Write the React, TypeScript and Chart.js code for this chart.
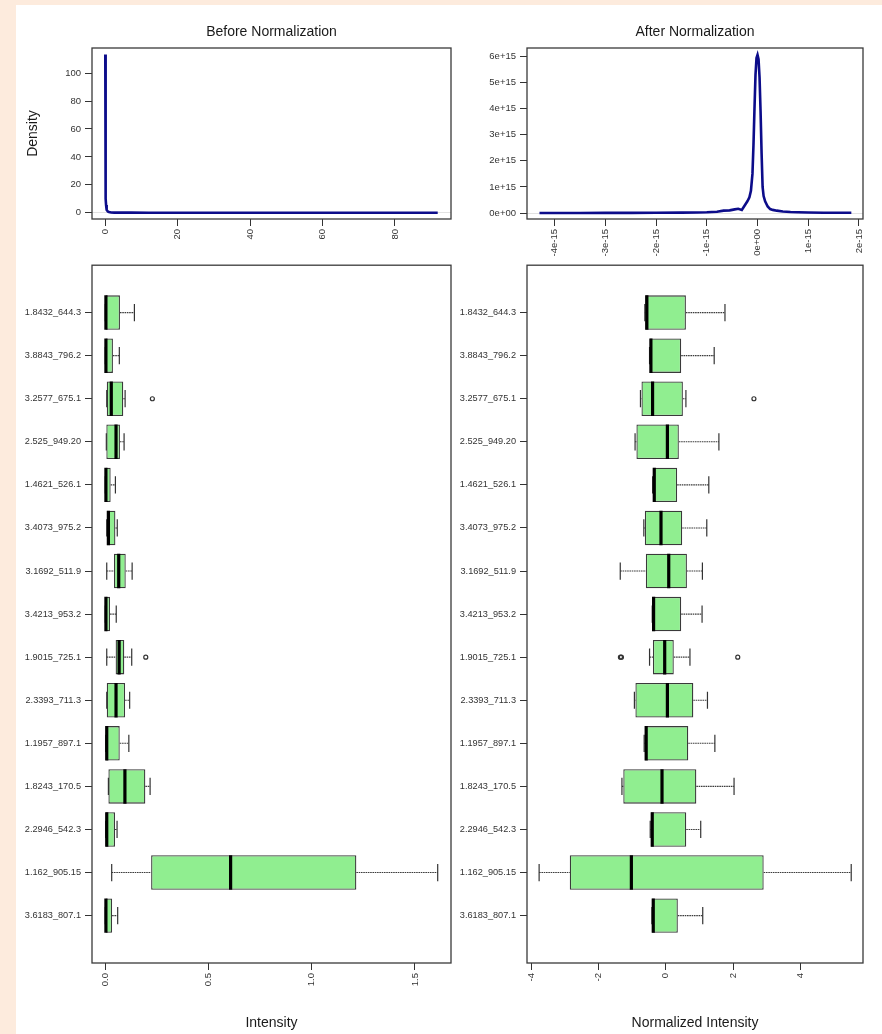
import React, { useEffect, useRef } from 'react';
import { Chart, registerables } from 'chart.js';

Chart.register(...registerables);

const FONT = '"Liberation Sans", Arial, Helvetica, sans-serif';
Chart.defaults.font.family = FONT;
Chart.defaults.color = '#333';

// ---------- Density before normalization ----------
const beforeDensX = [0, 0.03, 0.06, 0.1, 0.13, 0.17, 0.22, 0.3, 0.45, 0.7, 1.0, 1.6, 2.5, 4, 7, 12, 20, 30, 40, 50, 60, 70, 80, 91.8];
const beforeDensY = [113.4, 105, 85, 50, 25, 10, 5.5, 3.5, 2.0, 0.9, 0.5, 0.2, 0.1, 0.06, 0.04, 0.03, 0.02, 0.02, 0.01, 0.01, 0.01, 0.01, 0.01, 0.01];
const beforeDensXTicks = [0, 20, 40, 60, 80];
const beforeDensYTicks = [0, 20, 40, 60, 80, 100];

// ---------- Density after normalization ----------
const afterDensX = [
  -4.3e-15, -4.0e-15, -3.5e-15, -3.0e-15, -2.5e-15, -2.0e-15, -1.5e-15, -1.2e-15, -1.0e-15, -0.8e-15,
  -0.67e-15, -0.55e-15, -0.45e-15, -0.38e-15, -0.31e-15, -0.25e-15, -0.2e-15, -0.16e-15, -0.13e-15, -0.1e-15,
  -0.08e-15, -0.06e-15, -0.04e-15, -0.02e-15, 0, 0.02e-15, 0.04e-15, 0.06e-15, 0.08e-15, 0.1e-15,
  0.12e-15, 0.15e-15, 0.2e-15, 0.25e-15, 0.3e-15, 0.38e-15, 0.5e-15, 0.65e-15, 0.8e-15, 1.0e-15,
  1.3e-15, 1.6e-15, 1.85e-15,
];
const afterDensY = [
  0, 0, 0, 0.005e15, 0.005e15, 0.01e15, 0.015e15, 0.02e15, 0.03e15, 0.05e15,
  0.09e15, 0.1e15, 0.14e15, 0.16e15, 0.12e15, 0.3e15, 0.45e15, 0.6e15, 0.85e15, 1.5e15,
  2.6e15, 4.0e15, 5.3e15, 5.95e15, 6.07e15, 5.9e15, 5.2e15, 3.9e15, 2.3e15, 1.0e15,
  0.65e15, 0.45e15, 0.25e15, 0.15e15, 0.12e15, 0.09e15, 0.06e15, 0.04e15, 0.03e15, 0.02e15,
  0.01e15, 0.01e15, 0.01e15,
];
const afterDensXTicks = [-4e-15, -3e-15, -2e-15, -1e-15, 0, 1e-15, 2e-15];
const afterDensYTicks = [0, 1e15, 2e15, 3e15, 4e15, 5e15, 6e15];

// ---------- Box plots ----------
const rowNames = [
  '1.8432_644.3', '3.8843_796.2', '3.2577_675.1', '2.525_949.20', '1.4621_526.1',
  '3.4073_975.2', '3.1692_511.9', '3.4213_953.2', '1.9015_725.1', '2.3393_711.3',
  '1.1957_897.1', '1.8243_170.5', '2.2946_542.3', '1.162_905.15', '3.6183_807.1',
];
const rowTicks = [1, 2, 3, 4, 5, 6, 7, 8, 9, 10, 11, 12, 13, 14, 15];

const beforeMin = [0.000, 0.000, 0.007, 0.005, 0.000, 0.007, 0.007, 0.000, 0.007, 0.007, 0.002, 0.015, 0.002, 0.031, 0.000];
const beforeQ1 = [0.000, 0.000, 0.007, 0.005, 0.000, 0.007, 0.042, 0.000, 0.050, 0.007, 0.002, 0.015, 0.002, 0.222, 0.000];
const beforeMed = [0.003, 0.003, 0.029, 0.052, 0.003, 0.015, 0.065, 0.003, 0.067, 0.052, 0.007, 0.095, 0.007, 0.607, 0.003];
const beforeQ3 = [0.071, 0.037, 0.087, 0.071, 0.026, 0.049, 0.099, 0.023, 0.092, 0.096, 0.070, 0.194, 0.047, 1.216, 0.033];
const beforeMax = [0.141, 0.068, 0.096, 0.091, 0.049, 0.058, 0.130, 0.053, 0.128, 0.118, 0.114, 0.217, 0.057, 1.610, 0.060];
const beforeOutRow = [3, 9];
const beforeOutVal = [0.228, 0.196];
const beforeXTicks = [0, 0.5, 1.0, 1.5];

const afterMin = [-0.62, -0.48, -0.75, -0.91, -0.39, -0.65, -1.35, -0.40, -0.48, -0.93, -0.64, -1.30, -0.46, -3.76, -0.41];
const afterQ1 = [-0.61, -0.47, -0.72, -0.87, -0.38, -0.62, -0.59, -0.40, -0.38, -0.90, -0.62, -1.26, -0.44, -2.85, -0.41];
const afterMed = [-0.56, -0.44, -0.39, 0.05, -0.34, -0.14, 0.09, -0.36, -0.03, 0.05, -0.58, -0.11, -0.40, -1.02, -0.37];
const afterQ3 = [0.60, 0.46, 0.51, 0.39, 0.34, 0.49, 0.63, 0.46, 0.24, 0.82, 0.67, 0.91, 0.61, 2.91, 0.36];
const afterMax = [1.76, 1.44, 0.60, 1.58, 1.28, 1.22, 1.09, 1.08, 0.72, 1.24, 1.46, 2.03, 1.04, 5.51, 1.10];
const afterOutRow = [3, 9, 9, 9];
const afterOutVal = [2.62, -1.345, -1.315, 2.14];
const afterXTicks = [-4, -2, 0, 2, 4];

// ---------- helpers ----------
const frame = {
  id: 'frame',
  afterDraw(chart: any) {
    const { ctx, chartArea: a } = chart;
    ctx.save();
    ctx.strokeStyle = '#3a3a3a';
    ctx.lineWidth = 1.3;
    ctx.strokeRect(a.left, a.top, a.right - a.left, a.bottom - a.top);
    ctx.restore();
  },
};

const fixW = (w: number) => (s: any) => {
  s.width = w;
  s.paddingTop = 0; s.paddingBottom = 0; s.paddingLeft = 0; s.paddingRight = 0;
};
const fixH = (h: number) => (s: any) => {
  s.height = h;
  s.paddingTop = 0; s.paddingBottom = 0; s.paddingLeft = 0; s.paddingRight = 0;
};
const setTicks = (vals: number[]) => (s: any) => {
  s.ticks = vals.map((v) => ({ value: v }));
};
const sci = (v: number) => (v === 0 ? '0e+00' : Number(v).toExponential(0));

const tickFont = { size: 9.5, family: FONT };
const titleFont = { size: 14, family: FONT, weight: 'normal' as const };

function densityConfig(opts: any) {
  const { xs, ys, title, xMin, xMax, yMin, yMax, xTicks, yTicks, fmt, yTitle, yAxisW } = opts;
  return {
    type: 'line',
    data: {
      datasets: [
        {
          data: xs.map((x: number, i: number) => ({ x, y: ys[i] })),
          borderColor: '#0c0c8a',
          borderWidth: 2.6,
          pointRadius: 0,
          tension: 0,
          fill: false,
        },
      ],
    },
    options: {
      responsive: false,
      animation: false,
      events: [],
      layout: { padding: { left: 0, top: 0, right: 19, bottom: 0 } },
      plugins: {
        legend: { display: false },
        tooltip: { enabled: false },
        title: {
          display: true,
          text: title,
          fullSize: false,
          color: '#1a1a1a',
          font: titleFont,
          padding: { top: 18.6, bottom: 7.6 },
        },
      },
      scales: {
        x: {
          type: 'linear',
          min: xMin,
          max: xMax,
          bounds: 'data',
          offset: false,
          afterBuildTicks: setTicks(xTicks),
          afterFit: fixH(41),
          border: { display: false },
          grid: { offset: false, drawOnChartArea: false, tickLength: 7, tickColor: '#333', tickWidth: 1 },
          ticks: { autoSkip: false, minRotation: 90, maxRotation: 90, padding: 3, font: tickFont, color: '#333', callback: (v: number) => fmt(v) },
        },
        y: {
          type: 'linear',
          min: yMin,
          max: yMax,
          bounds: 'data',
          offset: false,
          afterBuildTicks: setTicks(yTicks),
          afterFit: fixW(yAxisW),
          border: { display: false },
          title: yTitle
            ? { display: true, text: yTitle, color: '#1a1a1a', font: titleFont, padding: { top: 8.6, bottom: 0 } }
            : { display: false },
          grid: {
            offset: false,
            drawOnChartArea: true,
            color: (c: any) => (c.tick && c.tick.value === 0 ? '#e2e2e2' : 'rgba(0,0,0,0)'),
            tickLength: 7,
            tickColor: '#333',
            tickWidth: 1,
          },
          ticks: { autoSkip: false, padding: 4, font: tickFont, color: '#333', callback: (v: number) => fmt(v) },
        },
      },
    },
    plugins: [frame],
  };
}

function boxConfig(opts: any) {
  const { mins, q1s, meds, q3s, maxs, outRows, outVals, xMin, xMax, xTicks, fmt, xTitle } = opts;
  const boxes = rowTicks.map((r, i) => ({ y: r, x: [q1s[i], q3s[i]] }));
  const medians: any[] = [];
  const whiskers: any[] = [];
  const staples: any[] = [];
  rowTicks.forEach((r, i) => {
    medians.push({ x: meds[i], y: r - 0.4 }, { x: meds[i], y: r + 0.4 }, { x: null, y: null });
    whiskers.push({ x: mins[i], y: r }, { x: q1s[i], y: r }, { x: null, y: null });
    whiskers.push({ x: q3s[i], y: r }, { x: maxs[i], y: r }, { x: null, y: null });
    staples.push({ x: mins[i], y: r - 0.2 }, { x: mins[i], y: r + 0.2 }, { x: null, y: null });
    staples.push({ x: maxs[i], y: r - 0.2 }, { x: maxs[i], y: r + 0.2 }, { x: null, y: null });
  });
  const outliers = outRows.map((r: number, i: number) => ({ x: outVals[i], y: r }));
  return {
    type: 'bar',
    data: {
      datasets: [
        { type: 'line', order: 0, data: medians, borderColor: '#000', borderWidth: 3.2, pointRadius: 0, spanGaps: false },
        { type: 'scatter', order: 1, data: outliers, pointStyle: 'circle', pointRadius: 2, borderColor: '#333', borderWidth: 1.2, backgroundColor: 'rgba(0,0,0,0)' },
        { type: 'line', order: 2, data: staples, borderColor: '#333', borderWidth: 1.2, pointRadius: 0, spanGaps: false },
        {
          type: 'bar', order: 3, indexAxis: 'y', data: boxes,
          backgroundColor: '#90ee90', borderColor: '#3a3a3a', borderWidth: 1.3, borderSkipped: false,
          categoryPercentage: 1, barPercentage: 0.8,
        },
        { type: 'line', order: 4, data: whiskers, borderColor: '#3c3c3c', borderWidth: 1.1, borderDash: [1.6, 0.7], pointRadius: 0, spanGaps: false },
      ],
    },
    options: {
      responsive: false,
      animation: false,
      events: [],
      layout: { padding: { left: 0, top: 3, right: 19, bottom: 0 } },
      plugins: { legend: { display: false }, tooltip: { enabled: false }, title: { display: false } },
      scales: {
        x: {
          type: 'linear',
          min: xMin,
          max: xMax,
          bounds: 'data',
          offset: false,
          beginAtZero: false,
          afterBuildTicks: setTicks(xTicks),
          afterFit: fixH(71),
          border: { display: false },
          title: { display: true, text: xTitle, color: '#1a1a1a', font: titleFont, padding: { top: 0, bottom: 2.6 } },
          grid: { offset: false, drawOnChartArea: false, tickLength: 7, tickColor: '#333', tickWidth: 1 },
          ticks: { autoSkip: false, minRotation: 90, maxRotation: 90, padding: 3, font: tickFont, color: '#333', callback: (v: number) => fmt(v) },
        },
        y: {
          type: 'linear',
          min: -0.1,
          max: 16.1,
          reverse: true,
          bounds: 'data',
          offset: false,
          beginAtZero: false,
          afterBuildTicks: setTicks(rowTicks),
          afterFit: fixW(opts.yAxisW),
          border: { display: false },
          grid: { offset: false, drawOnChartArea: false, tickLength: 7, tickColor: '#333', tickWidth: 1 },
          ticks: { autoSkip: false, padding: 4, font: { size: 9.2, family: FONT }, color: '#333', callback: (v: number) => rowNames[v - 1] },
        },
      },
    },
    plugins: [frame],
  };
}

function ChartCanvas({ left, top, width, height, config }: any) {
  const ref = useRef<HTMLCanvasElement | null>(null);
  useEffect(() => {
    if (!ref.current) return;
    const chart = new Chart(ref.current, config() as any);
    return () => chart.destroy();
  }, []);
  return (
    <canvas
      ref={ref}
      width={width}
      height={height}
      style={{ position: 'absolute', left, top, width, height, display: 'block' }}
    />
  );
}

export default function App() {
  return (
    <div style={{ position: 'absolute', left: 0, top: 0, width: 882, height: 1034, background: '#fdebdd', overflow: 'hidden' }}>
      <div style={{ position: 'absolute', left: 16, top: 5, right: 0, bottom: 0, background: '#ffffff' }} />
      <ChartCanvas
        left={16} top={5} width={454} height={255}
        config={() => densityConfig({
          xs: beforeDensX, ys: beforeDensY, title: 'Before Normalization',
          xMin: -3.67, xMax: 95.47, yMin: -4.5, yMax: 118, xTicks: beforeDensXTicks, yTicks: beforeDensYTicks,
          fmt: (v: number) => String(v), yTitle: 'Density', yAxisW: 76,
        })}
      />
      <ChartCanvas
        left={456} top={5} width={426} height={255}
        config={() => densityConfig({
          xs: afterDensX, ys: afterDensY, title: 'After Normalization',
          xMin: -4.546e-15, xMax: 2.08e-15, yMin: -0.23e15, yMax: 6.33e15, xTicks: afterDensXTicks, yTicks: afterDensYTicks,
          fmt: sci, yTitle: null, yAxisW: 71,
        })}
      />
      <ChartCanvas
        left={16} top={260} width={454} height={774}
        config={() => boxConfig({
          mins: beforeMin, q1s: beforeQ1, meds: beforeMed, q3s: beforeQ3, maxs: beforeMax,
          outRows: beforeOutRow, outVals: beforeOutVal, xMin: -0.0644, xMax: 1.6744, xTicks: beforeXTicks,
          fmt: (v: number) => Number(v).toFixed(1), xTitle: 'Intensity', yAxisW: 76,
        })}
      />
      <ChartCanvas
        left={456} top={260} width={426} height={774}
        config={() => boxConfig({
          mins: afterMin, q1s: afterQ1, meds: afterMed, q3s: afterQ3, maxs: afterMax,
          outRows: afterOutRow, outVals: afterOutVal, xMin: -4.12, xMax: 5.86, xTicks: afterXTicks,
          fmt: (v: number) => String(v), xTitle: 'Normalized Intensity', yAxisW: 71,
        })}
      />
    </div>
  );
}
